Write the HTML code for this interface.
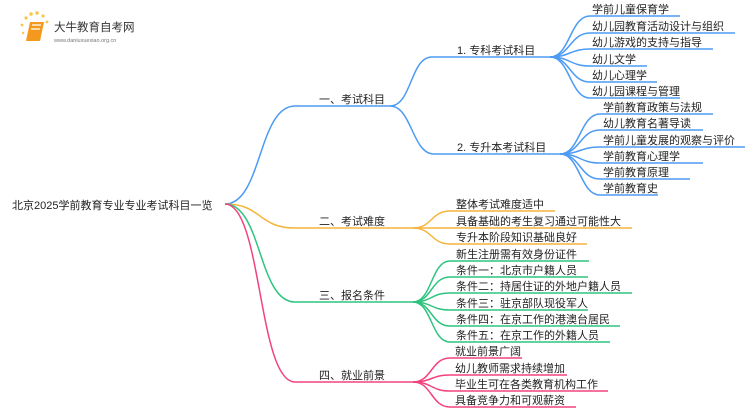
<!DOCTYPE html>
<html><head><meta charset="utf-8"><style>
html,body{margin:0;padding:0;background:#fff;}
svg text{font-family:"Liberation Sans","Noto Sans CJK SC",sans-serif;font-size:11px;fill:#222;}
</style></head><body>
<svg width="750" height="410" viewBox="0 0 750 410" xmlns="http://www.w3.org/2000/svg">
<!-- logo -->
<g>
<circle cx="26" cy="18" r="1.6" fill="#f8c64a"/><circle cx="31" cy="14" r="1.8" fill="#f8c64a"/><circle cx="37" cy="13" r="1.8" fill="#f8c64a"/><circle cx="43" cy="16" r="1.6" fill="#f8c64a"/><circle cx="47" cy="22" r="1.4" fill="#f8c64a"/><circle cx="22" cy="25" r="1.4" fill="#f8c64a"/><circle cx="23" cy="33" r="1.2" fill="#f8c64a"/>
<path d="M30 22 L44 22 L40 41 L26 41 Z" fill="#f39a1e"/>
<path d="M32 25 L41 25 M31 29 L40 29" stroke="#fff" stroke-width="1.2"/>
<text x="54" y="31" style="font-size:11.5px;fill:#333">大牛教育自考网</text>
<text x="54" y="42" style="font-size:5.5px;fill:#777">www.daniuxuexiao.org.cn</text>
</g>
<text x="12" y="209">北京2025学前教育专业专业考试科目一览</text>
<g fill="none" stroke-width="1.5">
<!-- blue -->
<g stroke="#4c9bf4">
<path d="M225 204 C262 204,258 106,295 106 L390 106"/>
<path d="M390 106 C412 106,410 57,432 57 L550 57"/>
<path d="M390 106 C412 106,412 154,434 154 L560 154"/>
<path d="M550 57 C570 57,570 16,590 16 L680 16"/>
<path d="M550 57 C570 57,570 33,590 33 L735 33"/>
<path d="M550 57 C570 57,570 49,590 49 L713 49"/>
<path d="M550 57 C570 57,570 66,590 66 L647 66"/>
<path d="M550 57 C570 57,570 82,590 82 L657 82"/>
<path d="M550 57 C570 57,570 98,590 98 L680 98"/>
<path d="M560 154 C580 154,580 114,600 114 L713 114"/>
<path d="M560 154 C580 154,580 130,600 130 L703 130"/>
<path d="M560 154 C580 154,580 147,600 147 L745 147"/>
<path d="M560 154 C580 154,580 163,600 163 L703 163"/>
<path d="M560 154 C580 154,580 179,600 179 L690 179"/>
<path d="M560 154 C580 154,580 195,600 195 L658 195"/>
</g>
<!-- orange -->
<g stroke="#f5b43c">
<path d="M225 204 C262 204,258 228,295 228 L413 228"/>
<path d="M413 228 C432 228,431 211,450 211 L555 211"/>
<path d="M413 228 L632 228"/>
<path d="M413 228 C432 228,431 244,450 244 L587 244"/>
</g>
<!-- green -->
<g stroke="#2ec47e">
<path d="M225 204 C262 204,258 302,295 302 L413 302"/>
<path d="M413 302 C432 302,431 261,450 261 L589 261"/>
<path d="M413 302 C432 302,431 277,450 277 L588 277"/>
<path d="M413 302 C432 302,431 293,450 293 L632 293"/>
<path d="M413 302 C432 302,431 310,450 310 L588 310"/>
<path d="M413 302 C432 302,431 326,450 326 L620 326"/>
<path d="M413 302 C432 302,431 342,450 342 L610 342"/>
</g>
<!-- pink -->
<g stroke="#f2437f">
<path d="M225 204 C262 204,258 382,295 382 L413 382"/>
<path d="M413 382 C432 382,431 358,450 358 L522 358"/>
<path d="M413 382 C432 382,431 375,450 375 L567 375"/>
<path d="M413 382 C432 382,431 391,450 391 L608 391"/>
<path d="M413 382 C432 382,431 407,450 407 L576 407"/>
</g>
</g>
<text x="319" y="103">一、考试科目</text>
<text x="457" y="54">1. 专科考试科目</text>
<text x="457" y="151">2. 专升本考试科目</text>
<text x="592" y="13">学前儿童保育学</text>
<text x="592" y="30">幼儿园教育活动设计与组织</text>
<text x="592" y="46">幼儿游戏的支持与指导</text>
<text x="592" y="63">幼儿文学</text>
<text x="592" y="79">幼儿心理学</text>
<text x="592" y="95">幼儿园课程与管理</text>
<text x="603" y="111">学前教育政策与法规</text>
<text x="603" y="127">幼儿教育名著导读</text>
<text x="603" y="144">学前儿童发展的观察与评价</text>
<text x="603" y="160">学前教育心理学</text>
<text x="603" y="176">学前教育原理</text>
<text x="603" y="192">学前教育史</text>
<text x="319" y="225">二、考试难度</text>
<text x="456" y="208">整体考试难度适中</text>
<text x="456" y="225">具备基础的考生复习通过可能性大</text>
<text x="456" y="241">专升本阶段知识基础良好</text>
<text x="319" y="299">三、报名条件</text>
<text x="456" y="258">新生注册需有效身份证件</text>
<text x="456" y="274">条件一：北京市户籍人员</text>
<text x="456" y="290">条件二：持居住证的外地户籍人员</text>
<text x="456" y="307">条件三：驻京部队现役军人</text>
<text x="456" y="323">条件四：在京工作的港澳台居民</text>
<text x="456" y="339">条件五：在京工作的外籍人员</text>
<text x="319" y="379">四、就业前景</text>
<text x="455" y="355">就业前景广阔</text>
<text x="455" y="372">幼儿教师需求持续增加</text>
<text x="455" y="388">毕业生可在各类教育机构工作</text>
<text x="455" y="404">具备竞争力和可观薪资</text>
</svg>
</body></html>
